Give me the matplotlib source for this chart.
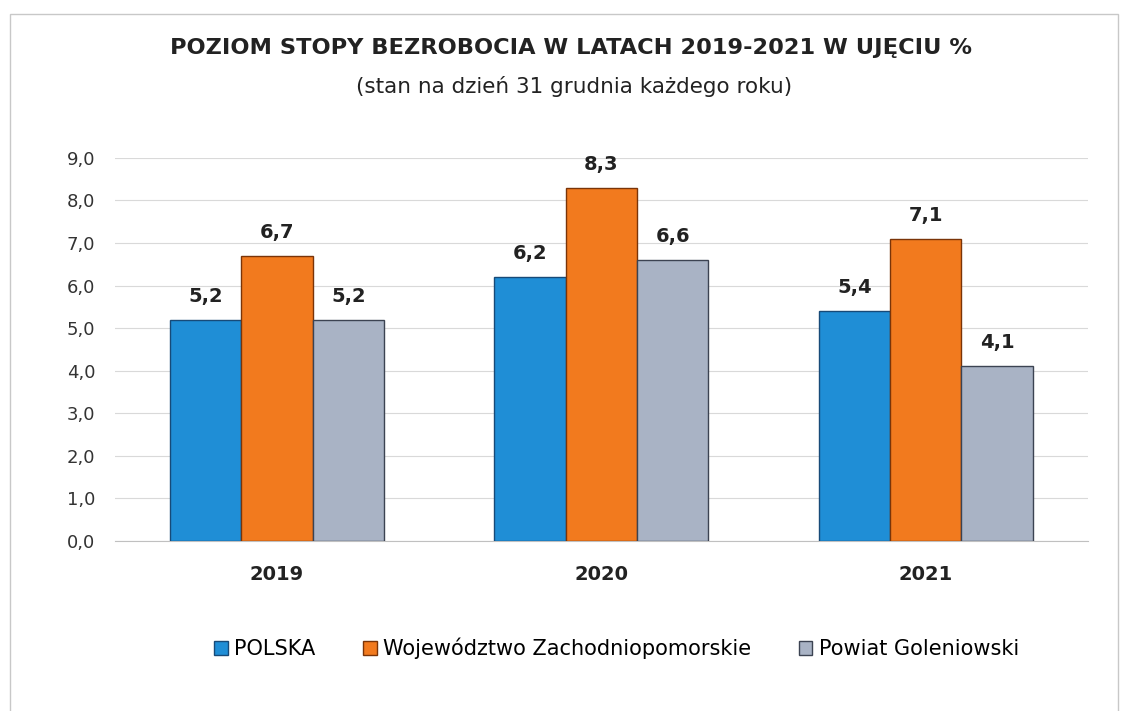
import matplotlib.pyplot as plt
import numpy as np
from matplotlib.patches import Rectangle

years = ['2019', '2020', '2021']
polska = [5.2, 6.2, 5.4]
wojewodztwo = [6.7, 8.3, 7.1]
powiat = [5.2, 6.6, 4.1]
series_names = ['POLSKA', 'Województwo Zachodniopomorskie', 'Powiat Goleniowski']
y_ticks = [0.0, 1.0, 2.0, 3.0, 4.0, 5.0, 6.0, 7.0, 8.0, 9.0]

colors = ['#1f8ed6', '#f27a1e', '#a9b3c5']
edges = ['#174a78', '#7a3408', '#3c4352']

plt.rcParams['font.family'] = ['DejaVu Sans']

fig = plt.figure(figsize=(11.25, 7.11), dpi=100)
fig.patches.append(Rectangle((0.009, -0.01), 0.985, 0.99, transform=fig.transFigure,
                             fill=False, edgecolor='#c8c8c8', linewidth=1.0))
ax = fig.add_axes([0.102, 0.239, 0.865, 0.539])

x = np.arange(len(years))
width = 0.22
for i, (vals, name) in enumerate(zip([polska, wojewodztwo, powiat], series_names)):
    pos = x + (i - 1) * width
    bars = ax.bar(pos, vals, width, color=colors[i], edgecolor=edges[i],
                  linewidth=1.0, label=name, zorder=3)
    for b, v in zip(bars, vals):
        ax.text(b.get_x() + b.get_width() / 2, v + 0.33, f'{v:.1f}'.replace('.', ','),
                ha='center', va='bottom', fontsize=14, fontweight='bold', color='#222222')

ax.set_xlim(-0.5, 2.5)
ax.set_ylim(0, 9.0)
ax.set_yticks(y_ticks)
ax.set_yticklabels([f'{t:.1f}'.replace('.', ',') for t in y_ticks], fontsize=13, color='#333333')
ax.set_xticks(x)
ax.set_xticklabels(years, fontsize=14, fontweight='bold', color='#222222')
ax.tick_params(axis='y', length=0, pad=14)
ax.tick_params(axis='x', length=0, pad=17)
ax.grid(axis='y', color='#d9d9d9', linewidth=0.8, zorder=0)
for s in ['top', 'right', 'left']:
    ax.spines[s].set_visible(False)
ax.spines['bottom'].set_color('#c0c0c0')

fig.text(0.508, 0.933, 'POZIOM STOPY BEZROBOCIA W LATACH 2019-2021 W UJĘCIU %',
         ha='center', va='center', fontsize=16.2, fontweight='bold', color='#222222')
fig.text(0.510, 0.879, '(stan na dzień 31 grudnia każdego roku)',
         ha='center', va='center', fontsize=15.5, color='#222222')

leg = fig.legend(loc='center', bbox_to_anchor=(0.548, 0.088), ncol=3, frameon=False,
                 fontsize=15, handlelength=0.65, handleheight=0.65, handletextpad=0.3,
                 columnspacing=2.3)

fig.savefig('out.png', dpi=100)
